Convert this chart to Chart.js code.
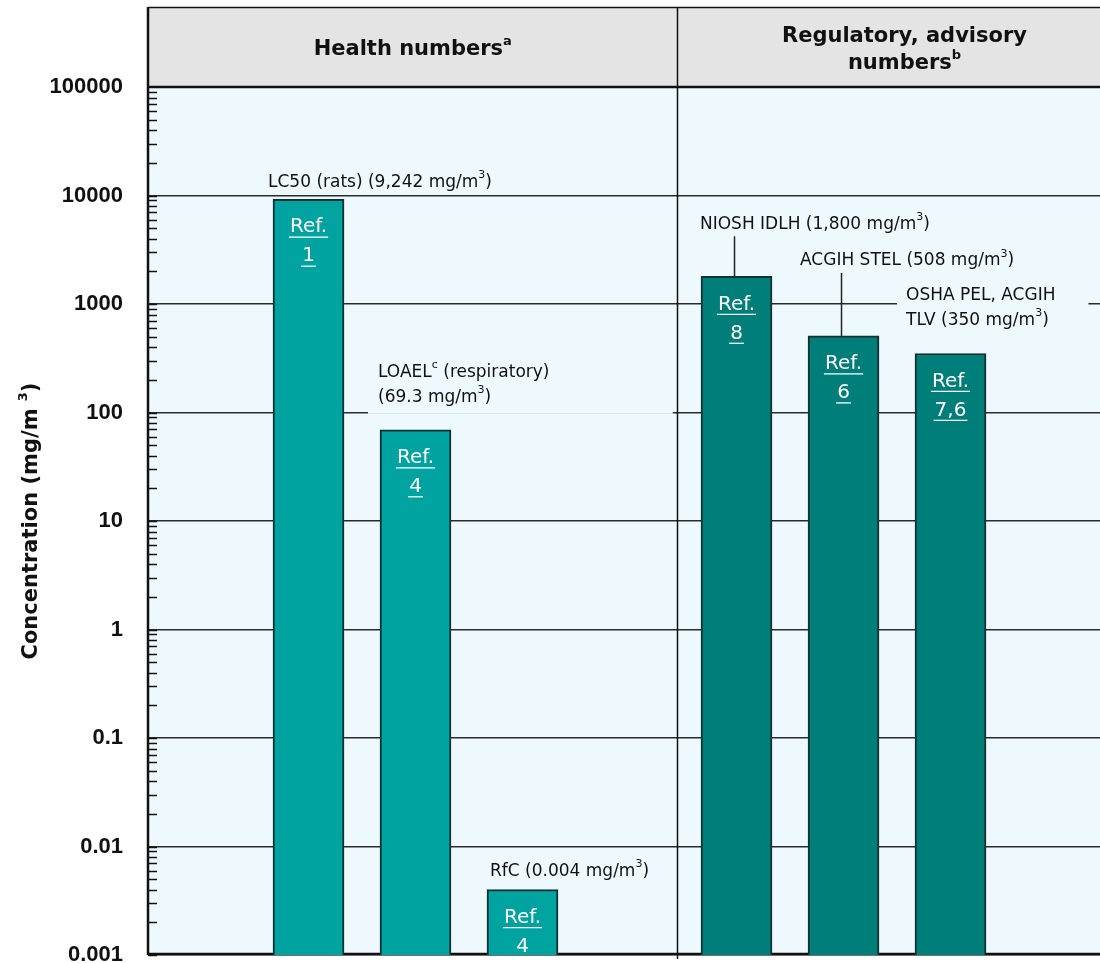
<!DOCTYPE html>
<html>
<head>
<meta charset="utf-8">
<script src="https://cdn.jsdelivr.net/npm/chart.js@4.4.1/dist/chart.umd.min.js"></script>
<style>
  html, body { margin: 0; padding: 0; background: #ffffff; overflow: hidden; }
  #wrap { width: 1100px; height: 963px; position: relative; }
</style>
</head>
<body>
<div id="wrap"><canvas id="chart"></canvas></div>
<script>
// ---------------- data ----------------
const categories = ['LC50 (rats)', 'LOAEL (respiratory)', 'RfC', 'NIOSH IDLH', 'ACGIH STEL', 'OSHA PEL, ACGIH TLV'];
const xPositions = [0, 1, 2, 4, 5, 6];
const concentrations = [9242, 69.3, 0.004, 1800, 508, 350];
const groups = ['health', 'health', 'health', 'regulatory', 'regulatory', 'regulatory'];
const refNumbers = ['1', '4', '4', '8', '6', '7,6'];
const tickValues = [0.001, 0.01, 0.1, 1, 10, 100, 1000, 10000, 100000];
const tickLabels = ['0.001', '0.01', '0.1', '1', '10', '100', '1000', '10000', '100000'];
const annotationLines = [
  ['LC50 (rats) (9,242 mg/m^3^)'],
  ['LOAEL^c^ (respiratory)', '(69.3 mg/m^3^)'],
  ['RfC (0.004 mg/m^3^)'],
  ['NIOSH IDLH (1,800 mg/m^3^)'],
  ['ACGIH STEL (508 mg/m^3^)'],
  ['OSHA PEL, ACGIH', 'TLV (350 mg/m^3^)']
];
const healthTitle = ['Health numbers^a^'];
const regulatoryTitle = ['Regulatory, advisory', 'numbers^b^'];
const yAxisTitle = 'Concentration (mg/m ^3^)';

// ---------------- styles / layout ----------------
const groupColors = { health: '#00A39F', regulatory: '#007E79' };
const plotBg = '#EEF9FE';
const headerBg = '#E4E4E4';
const annLayout = [
  { dx: -5, dy: -17, box: null, leader: false },
  { dx: -2, dy: -57, box: { l: 10, r: 120, t: 10, b: 16 }, leader: false },
  { dx: 3, dy: -18, box: null, leader: false },
  { dx: -1, dy: -52, box: null, leader: true },
  { dx: -8, dy: -75, box: null, leader: true },
  { dx: -9, dy: -58, box: { l: 9, r: 33, t: 10, b: 10 }, leader: false }
];
const dividerValue = 3.44;
const regulatoryCenterValue = 5.57;

function drawRich(ctx, str, x, y, size, weight, family, align, color) {
  const segs = str.split('^').map((t, i) => ({ t, sup: i % 2 === 1 }));
  const fN = `${weight} ${size}px "${family}"`;
  const fS = `${weight} ${Math.round(size * 0.62)}px "${family}"`;
  let w = 0;
  segs.forEach(s => { ctx.font = s.sup ? fS : fN; s.w = ctx.measureText(s.t).width; w += s.w; });
  let cx = align === 'center' ? x - w / 2 : x;
  ctx.textAlign = 'left';
  ctx.textBaseline = 'middle';
  ctx.fillStyle = color || '#111';
  segs.forEach(s => {
    ctx.font = s.sup ? fS : fN;
    ctx.fillText(s.t, cx, s.sup ? y - size * 0.42 : y);
    cx += s.w;
  });
  return w;
}

const decorPlugin = {
  id: 'decor',
  beforeDraw(chart) {
    const { ctx, chartArea: a } = chart;
    ctx.save();
    ctx.fillStyle = plotBg;
    ctx.fillRect(a.left, a.top, chart.width - a.left, a.bottom - a.top);
    ctx.fillStyle = headerBg;
    ctx.fillRect(a.left, 7, chart.width - a.left, a.top - 7);
    ctx.restore();
  },
  beforeDatasetsDraw(chart) {
    const { ctx, chartArea: a } = chart;
    ctx.save();
    ctx.strokeStyle = '#111';
    ctx.lineWidth = 2.5;
    ctx.beginPath();
    ctx.moveTo(a.left, a.bottom - 1);
    ctx.lineTo(chart.width, a.bottom - 1);
    ctx.stroke();
    ctx.restore();
  },
  afterDatasetsDraw(chart) {
    const { ctx } = chart;
    const meta = chart.getDatasetMeta(0);
    ctx.save();
    meta.data.forEach((bar, i) => {
      const lay = annLayout[i];
      const left = bar.x - bar.width / 2 + lay.dx;
      const y0 = bar.y + lay.dy;
      const lines = annotationLines[i];
      const lh = 25;
      ctx.font = '17px "DejaVu Sans"';
      let maxW = 0;
      lines.forEach(l => { maxW = Math.max(maxW, ctx.measureText(l.replace(/\^/g, '')).width); });
      if (lay.box) {
        ctx.fillStyle = plotBg;
        ctx.fillRect(left - lay.box.l, y0 - lay.box.t, maxW + lay.box.l + lay.box.r,
          (lines.length - 1) * lh + lay.box.t + lay.box.b);
      }
      lines.forEach((l, k) => drawRich(ctx, l, left, y0 + k * lh, 17, 'normal', 'DejaVu Sans', 'left', '#111'));
      if (lay.leader) {
        ctx.strokeStyle = '#222';
        ctx.lineWidth = 1.5;
        ctx.beginPath();
        ctx.moveTo(bar.x - 2, y0 + (lines.length - 1) * lh + 12);
        ctx.lineTo(bar.x - 2, bar.y);
        ctx.stroke();
      }
      ctx.fillStyle = '#ffffff';
      ctx.strokeStyle = '#ffffff';
      ctx.lineWidth = 1.3;
      ctx.font = '20px "DejaVu Sans"';
      ctx.textAlign = 'center';
      ctx.textBaseline = 'middle';
      [['Ref.', 28], [refNumbers[i], 57]].forEach(([t, off]) => {
        const ty = bar.y + off;
        ctx.fillText(t, bar.x, ty);
        const w = ctx.measureText(t).width;
        ctx.beginPath();
        ctx.moveTo(bar.x - w / 2 - 1, ty + 10);
        ctx.lineTo(bar.x + w / 2 + 1, ty + 10);
        ctx.stroke();
      });
    });
    ctx.restore();
  },
  afterDraw(chart) {
    const { ctx, chartArea: a, scales } = chart;
    const ys = scales.y, xs = scales.x;
    ctx.save();
    ctx.strokeStyle = '#111';
    ctx.lineWidth = 1.5;
    for (let e = -3; e <= 4; e++) {
      for (let k = 1; k <= 9; k++) {
        const v = k * Math.pow(10, e);
        const py = Math.round(ys.getPixelForValue(v)) + 0.5;
        ctx.beginPath();
        ctx.moveTo(a.left, py);
        ctx.lineTo(a.left + 9, py);
        ctx.stroke();
      }
    }
    const divX = Math.round(xs.getPixelForValue(dividerValue)) + 0.5;
    ctx.strokeStyle = '#111';
    ctx.lineWidth = 1.5;
    ctx.beginPath();
    ctx.moveTo(a.left, 7.5); ctx.lineTo(chart.width, 7.5);
    ctx.stroke();
    ctx.lineWidth = 2.5;
    ctx.beginPath();
    ctx.moveTo(a.left, a.top); ctx.lineTo(chart.width, a.top);
    ctx.stroke();
    ctx.beginPath();
    ctx.moveTo(a.left, 7); ctx.lineTo(a.left, a.bottom);
    ctx.stroke();
    ctx.lineWidth = 1.5;
    ctx.beginPath();
    ctx.moveTo(divX, 7); ctx.lineTo(divX, a.bottom + 4);
    ctx.stroke();
    drawRich(ctx, healthTitle[0], (a.left + divX) / 2, 50, 21, 'bold', 'DejaVu Sans', 'center', '#111');
    const rc = xs.getPixelForValue(regulatoryCenterValue);
    drawRich(ctx, regulatoryTitle[0], rc, 37, 21, 'bold', 'DejaVu Sans', 'center', '#111');
    drawRich(ctx, regulatoryTitle[1], rc, 64, 21, 'bold', 'DejaVu Sans', 'center', '#111');
    ctx.translate(32, (a.top + a.bottom) / 2);
    ctx.rotate(-Math.PI / 2);
    drawRich(ctx, yAxisTitle, 0, 0, 21, 'bold', 'DejaVu Sans', 'center', '#111');
    ctx.restore();
  }
};

const ctx = document.getElementById('chart').getContext('2d');
new Chart(ctx, {
  type: 'bar',
  data: {
    labels: categories,
    datasets: [{
      label: 'Concentration',
      data: xPositions.map((x, i) => ({ x: x, y: concentrations[i] })),
      backgroundColor: groups.map(g => groupColors[g]),
      borderColor: '#123131',
      borderWidth: 2,
      barThickness: 71
    }]
  },
  options: {
    responsive: true,
    maintainAspectRatio: false,
    animation: false,
    devicePixelRatio: 1,
    layout: { padding: { top: 87, bottom: 8, left: 0, right: 0 } },
    plugins: { legend: { display: false }, tooltip: { enabled: false }, title: { display: false } },
    scales: {
      x: {
        type: 'linear',
        min: -1.5,
        max: 7.397,
        offset: false,
        display: false
      },
      y: {
        type: 'logarithmic',
        min: 0.001,
        max: 100000,
        afterBuildTicks: (scale) => { scale.ticks = tickValues.map(v => ({ value: v })); },
        afterFit: (scale) => { scale.width = 148; scale.paddingTop = 0; scale.paddingBottom = 0; },
        ticks: {
          autoSkip: false,
          padding: 25,
          color: '#111',
          font: { family: 'Liberation Sans', weight: 'bold', size: 22 },
          callback: (value) => {
            const idx = tickValues.findIndex(t => Math.abs(Math.log10(t) - Math.log10(value)) < 1e-6);
            return idx >= 0 ? tickLabels[idx] : '';
          }
        },
        grid: { color: '#2a2a2a', lineWidth: 1.5, drawTicks: false },
        border: { display: false }
      }
    }
  },
  plugins: [decorPlugin]
});
</script>
</body>
</html>
